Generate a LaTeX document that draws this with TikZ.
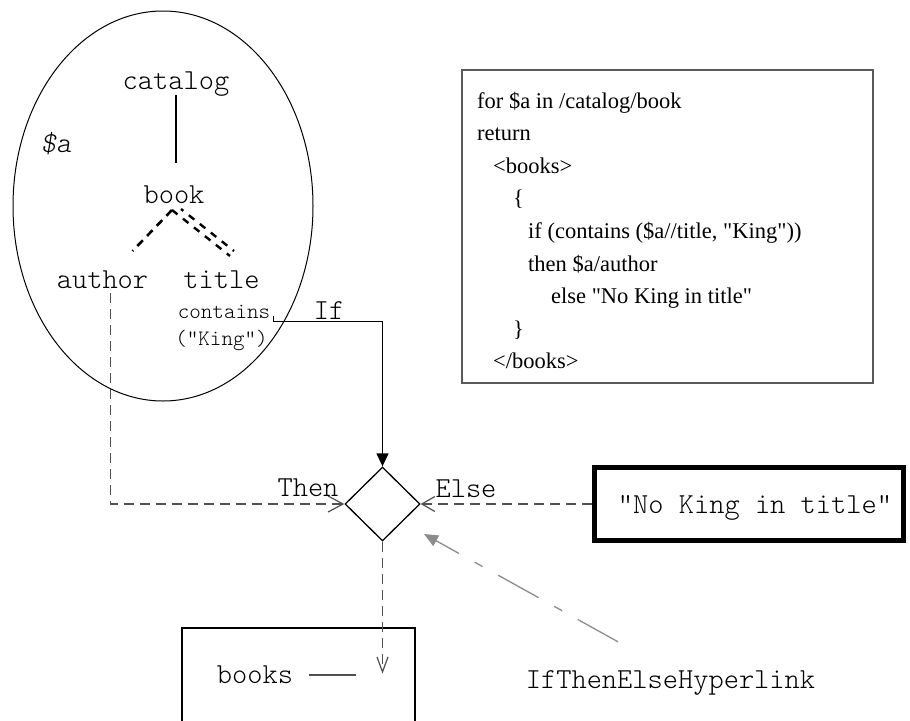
\documentclass[tikz,border=0pt]{standalone}
\usepackage{fontspec}
\setmainfont{Liberation Serif}
\setmonofont{lmmonolt10-regular}[Extension=.otf, ItalicFont=lmmonolt10-oblique,
  BoldFont=lmmonolt10-bold]
\usetikzlibrary{arrows.meta,shapes.geometric}

\definecolor{connGray}{RGB}{80,80,80}
\definecolor{linkGray}{RGB}{140,140,140}
\definecolor{boxGray}{RGB}{90,90,90}

\newcommand{\qq}{\textquotedbl}

\tikzset{
  lbl/.style={font={\ttfamily\fontsize{29}{32}\selectfont}, inner sep=0pt,
              text height=17pt, text depth=5pt},
  smalllbl/.style={font={\ttfamily\fontsize{22}{24}\selectfont}, inner sep=0pt,
              text height=13pt, text depth=4pt},
  treesolid/.style={line width=2.8pt},
  treedash/.style={line width=2.6pt, dash pattern=on 8pt off 6pt},
  treedouble/.style={line width=2.4pt, dash pattern=on 7pt off 7pt},
  conn/.style={connGray, line width=1.2pt, dash pattern=on 10pt off 6pt},
  ifline/.style={black, line width=1.3pt},
  hyperl/.style={linkGray, line width=1.3pt, dash pattern=on 46pt off 18pt on 9pt off 18pt},
}

\begin{document}
\begin{tikzpicture}[x=1pt,y=-1pt]
\useasboundingbox (0,0) rectangle (910,720);
\clip (0,0) rectangle (910,720);

% the $a variable scope with its path tree
\node[draw, ellipse, line width=1pt, minimum width=300pt, minimum height=390pt,
      inner sep=0pt] (scopeA) at (163,206) {};
\node[lbl, anchor=base, font={\ttfamily\itshape\fontsize{29}{32}\selectfont}] (varA) at (56,152) {\$a};

\node[lbl, anchor=base] (catalog) at (176,89) {catalog};
\node[lbl, anchor=base] (book) at (174,203) {book};
\node[lbl, anchor=base] (author) at (102.5,288) {author};
\node[lbl, anchor=base] (title) at (221.5,288) {title};
\node[smalllbl, anchor=base] (cont) at (224,318) {contains};
\node[smalllbl, anchor=base] (king) at (221.5,345) {(\qq King\qq)};

\draw[treesolid] ([shift={(0,1)}]catalog.south) -- ([shift={(2,-23)}]book.north);

\coordinate (apex) at ([shift={(-2,7)}]book.base);
\coordinate (authorTop) at ([shift={(30,-37)}]author.base);
\coordinate (titleTop) at ([shift={(8.5,-32)}]title.base);
\coordinate (titleTopB) at ([shift={(12.5,-37)}]title.base);
\draw[treedash] (apex) -- (authorTop);
\draw[treedouble] (apex) -- (titleTop);
\draw[treedouble, dash phase=4pt] ([shift={(9,-1)}]apex) -- (titleTopB);

% decision
\node[draw, diamond, line width=1.3pt, minimum width=75pt, minimum height=74pt,
      inner sep=0pt] (dia) at (382.5,504) {};

\draw[ifline, -{Triangle[length=13pt,width=12pt]}]
  ([shift={(3,-6)}]cont.south east) -- ++(0,5) -| (dia.north);
\node[lbl, anchor=base] (ifLbl) at (329,319) {If};

\draw[conn, -{Straight Barb[length=15pt,width=16pt]}]
  ([shift={(8,0)}]author.south) |- (dia.west);
\node[lbl, anchor=base] (thenLbl) at (308,496) {Then};

\node[draw, line width=5pt, minimum width=309pt, minimum height=73pt, inner sep=0pt,
      font={\ttfamily\fontsize{29}{32}\selectfont}, text height=20pt, text depth=2pt]
      (nk) at (749,504) {\hspace*{12pt}\qq No King in title\qq};
\draw[conn, -{Straight Barb[length=13pt,width=15pt]}] (nk.west) -- (dia.east);
\node[lbl, anchor=base] (elseLbl) at (466,497) {Else};

% result element
\node[draw, line width=1.3pt, minimum width=233pt, minimum height=140pt,
      inner sep=0pt] (booksBox) at (298.5,698) {};
\node[lbl, anchor=base] (books) at (255,683) {books};
\draw[connGray, line width=1.5pt] ([shift={(16,-8)}]books.base east) -- ++(47,0);

\coordinate (outTip) at ([shift={(0,132)}]dia.south);
\draw[conn, -{Straight Barb[length=15pt,width=11pt]}] (dia.south) -- (outTip);

% hyperlink annotation
\node[lbl, anchor=base] (hyp) at (670.5,688) {IfThenElseHyperlink};
\coordinate (hypTail) at ([shift={(-52.5,-29)}]hyp.north);
\coordinate (hypTip) at ([shift={(41.5,30)}]dia.center);
\draw[hyperl, -{Triangle[length=14pt,width=12pt]}] (hypTail) -- (hypTip);

% XQuery source
\node[draw=boxGray, line width=1.3pt, minimum width=411pt, minimum height=313pt,
      inner sep=0pt] (codebox) at (667.5,226.5) {};
\node[anchor=base west, inner sep=0pt, font={\fontsize{22.5}{32.6}\selectfont}]
  (code) at (477,108) {\parbox[t]{390pt}{%
    for \$a in /catalog/book\\
    return\\
    \hspace*{16pt}<books>\\
    \hspace*{36pt}\{\\
    \hspace*{51pt}if (contains (\$a//title, \qq King\qq))\\
    \hspace*{51pt}then \$a/author\\
    \hspace*{74pt}else \qq No King in title\qq\\
    \hspace*{36pt}\}\\
    \hspace*{16pt}</books>}};
\end{tikzpicture}
\end{document}
